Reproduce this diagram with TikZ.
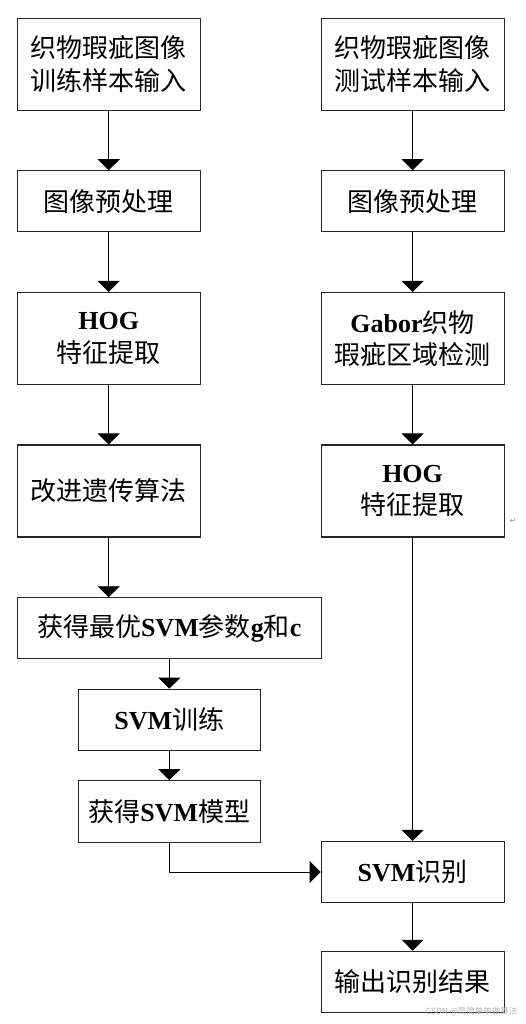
\documentclass[tikz,border=0pt]{standalone}
\usepackage{fontspec}
\setmainfont{Liberation Serif}
\newfontfamily\cjk{Noto Sans CJK SC}
\newfontfamily\symfont{DejaVu Sans}
\usetikzlibrary{arrows.meta}
\newcommand{\zh}[1]{{\cjk #1}}

\begin{document}
\begin{tikzpicture}[x=1pt, y=-1pt,
	box/.style={draw=black!85, line width=1.1pt, rectangle, inner sep=0pt, align=center,
		minimum width=183pt, minimum height=61pt, font=\fontsize{26}{32.5}\selectfont},
	tall/.style={box, minimum height=92pt},
	arr/.style={line width=0.9pt, -{Triangle[width=22pt, length=11pt]}}]
	\useasboundingbox (0,0) rectangle (525,1024);
	
	% Training branch
	\node[tall] (trainIn) at (108.7,64.2) {\zh{织物瑕疵图像}\\\zh{训练样本输入}};
	\node[box] (trainPre) at (108.7,201.3) {\zh{图像预处理}};
	\node[tall] (trainHog) at (108.7,338.5) {\textbf{HOG}\\\zh{特征提取}};
	\node[tall] (trainGa) at (108.7,491) {\zh{改进遗传算法}};
	\node[box, minimum width=303.7pt] (params) at (169.2,628.3) {\zh{获得最优}\textbf{SVM}\zh{参数}\textbf{g}\zh{和}\textbf{c}};
	\node[box, minimum width=182.4pt] (train) at (169.3,719.7) {\textbf{SVM}\zh{训练}};
	\node[box, minimum width=182.4pt, minimum height=61.6pt] (model) at (169.3,811.5) {\zh{获得}\textbf{SVM}\zh{模型}};
	
	% Test branch
	\node[tall] (testIn) at (412.6,64.2) {\zh{织物瑕疵图像}\\\zh{测试样本输入}};
	\node[box] (testPre) at (412.6,201.3) {\zh{图像预处理}};
	\node[tall] (testGabor) at (412.6,338.5) {\textbf{Gabor}\zh{织物}\\\zh{瑕疵区域检测}};
	\node[tall] (testHog) at (412.6,491) {\textbf{HOG}\\\zh{特征提取}};
	\node[box] (recog) at (412.6,872) {\textbf{SVM}\zh{识别}};
	\node[box] (result) at (412.6,981.8) {\zh{输出识别结果}};
	
	% Arrows
	\draw[arr] (trainIn) -- (trainPre);
	\draw[arr] (trainPre) -- (trainHog);
	\draw[arr] (trainHog) -- (trainGa);
	\draw[arr] (trainGa.south) -- (trainGa.south |- params.north);
	\draw[arr] (params.south -| train.north) -- (train.north);
	\draw[arr] (train) -- (model);
	\draw[arr] (model.south) |- (recog.west);
	\draw[arr] (testIn) -- (testPre);
	\draw[arr] (testPre) -- (testGabor);
	\draw[arr] (testGabor) -- (testHog);
	\draw[arr] (testHog) -- (recog);
	\draw[arr] (recog) -- (result);
	
	% Marks
	\node[text=black!45, font=\symfont\fontsize{8}{9}\selectfont] (ret) at (513,521) {↵};
	\node[text=black!30, font=\cjk\fontsize{8.5}{10}\selectfont, anchor=east] (mark) at (521,1012) {CSDN @简简单单做算法};
	
\end{tikzpicture}
\end{document}
